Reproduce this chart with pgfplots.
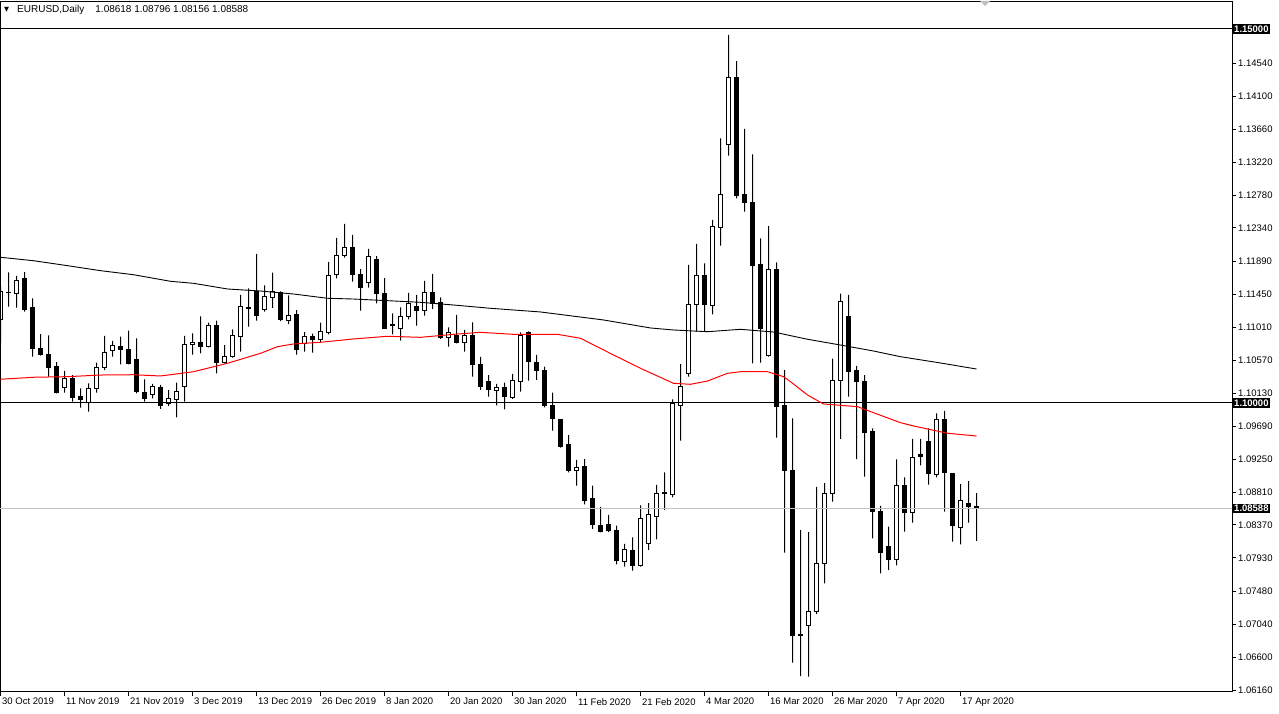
\documentclass[border=0pt]{standalone}
\usepackage{fontspec}
\setmainfont{Liberation Sans}
\newfontfamily\dejavu{DejaVu Sans}
\usepackage{pgfplots}
\usepackage{pgfplotstable}
\pgfplotsset{compat=1.18}
\definecolor{bidgrey}{RGB}{192,192,192}
\definecolor{mtred}{RGB}{255,0,0}

\pgfplotstableread{
i o h l c
0 1.11110 1.11564 1.10802 1.11497
1 1.11471 1.11747 1.11287 1.11477
2 1.11467 1.11698 1.11274 1.11644
3 1.11671 1.11751 1.11221 1.11253
4 1.11270 1.11400 1.10619 1.10726
5 1.10735 1.10922 1.10632 1.10646
6 1.10655 1.10905 1.10352 1.10477
7 1.10485 1.10548 1.10130 1.10138
8 1.10205 1.10428 1.10138 1.10321
9 1.10321 1.10374 1.10017 1.10076
10 1.10084 1.10197 1.09937 1.10050
11 1.10004 1.10263 1.09884 1.10197
12 1.10197 1.10539 1.10138 1.10477
13 1.10472 1.10896 1.10441 1.10678
14 1.10705 1.10829 1.10619 1.10771
15 1.10758 1.10886 1.10517 1.10713
16 1.10709 1.10967 1.10517 1.10525
17 1.10575 1.10865 1.10130 1.10151
18 1.10147 1.10317 1.10017 1.10058
19 1.10116 1.10254 1.10063 1.10214
20 1.10201 1.10241 1.09920 1.09969
21 1.09996 1.10174 1.09960 1.10063
22 1.10050 1.10271 1.09809 1.10151
23 1.10218 1.10896 1.10017 1.10785
24 1.10785 1.10932 1.10646 1.10812
25 1.10812 1.11159 1.10664 1.10753
26 1.10753 1.11074 1.10742 1.11039
27 1.11039 1.11100 1.10397 1.10539
28 1.10539 1.10775 1.10531 1.10628
29 1.10619 1.10985 1.10608 1.10905
30 1.10886 1.11444 1.10686 1.11293
31 1.11279 1.11534 1.11020 1.11261
32 1.11493 1.11992 1.11100 1.11167
33 1.11253 1.11574 1.11221 1.11427
34 1.11413 1.11742 1.11270 1.11488
35 1.11471 1.11493 1.11096 1.11110
36 1.11106 1.11440 1.11056 1.11172
37 1.11186 1.11243 1.10646 1.10713
38 1.10798 1.10949 1.10686 1.10892
39 1.10892 1.10926 1.10672 1.10852
40 1.10852 1.11074 1.10806 1.10959
41 1.10940 1.11885 1.10918 1.11707
42 1.11721 1.12206 1.11667 1.11975
43 1.11975 1.12393 1.11943 1.12082
44 1.12082 1.12246 1.11622 1.11715
45 1.11721 1.11791 1.11234 1.11547
46 1.11614 1.12059 1.11542 1.11961
47 1.11925 1.11965 1.11333 1.11461
48 1.11467 1.11671 1.10990 1.11000
49 1.11043 1.11199 1.10918 1.11036
50 1.10999 1.11279 1.10833 1.11159
51 1.11159 1.11471 1.11119 1.11333
52 1.11293 1.11444 1.11033 1.11234
53 1.11239 1.11631 1.11167 1.11480
54 1.11480 1.11725 1.11257 1.11333
55 1.11346 1.11413 1.10856 1.10878
56 1.10882 1.11012 1.10753 1.10936
57 1.10909 1.11177 1.10798 1.10812
58 1.10812 1.10976 1.10686 1.10909
59 1.10909 1.11079 1.10352 1.10517
60 1.10508 1.10615 1.10174 1.10218
61 1.10294 1.10374 1.10084 1.10174
62 1.10170 1.10254 1.09969 1.10210
63 1.10210 1.10271 1.09916 1.10084
64 1.10071 1.10388 1.10054 1.10304
65 1.10285 1.10945 1.10151 1.10909
66 1.10945 1.10956 1.10298 1.10552
67 1.10548 1.10642 1.10308 1.10432
68 1.10441 1.10485 1.09943 1.09964
69 1.09973 1.10138 1.09630 1.09796
70 1.09773 1.09786 1.09402 1.09425
71 1.09439 1.09572 1.09074 1.09095
72 1.09100 1.09238 1.08894 1.09144
73 1.09148 1.09251 1.08646 1.08703
74 1.08717 1.08894 1.08316 1.08373
75 1.08356 1.08610 1.08271 1.08279
76 1.08382 1.08503 1.08275 1.08302
77 1.08302 1.08360 1.07844 1.07892
78 1.07884 1.08115 1.07811 1.08048
79 1.08025 1.08205 1.07758 1.07825
80 1.07825 1.08632 1.07811 1.08459
81 1.08124 1.08663 1.08035 1.08512
82 1.08489 1.08904 1.08178 1.08793
83 1.08790 1.09074 1.08570 1.08797
84 1.08779 1.10050 1.08739 1.09996
85 1.09973 1.10521 1.09496 1.10227
86 1.10397 1.11845 1.10352 1.11320
87 1.11320 1.12126 1.10953 1.11698
88 1.11698 1.11868 1.10953 1.11320
89 1.11301 1.12447 1.11186 1.12353
90 1.12349 1.13539 1.12103 1.12790
91 1.13459 1.14920 1.13306 1.14354
92 1.14354 1.14572 1.12737 1.12771
93 1.12781 1.13663 1.12558 1.12683
94 1.12687 1.13325 1.10531 1.11841
95 1.11845 1.12202 1.10541 1.10993
96 1.10635 1.12366 1.10619 1.11787
97 1.11789 1.11881 1.09536 1.09953
98 1.09960 1.10441 1.07999 1.09095
99 1.09104 1.09796 1.06528 1.06889
100 1.06902 1.08302 1.06350 1.06894
101 1.07028 1.08275 1.06341 1.07219
102 1.07210 1.08877 1.07179 1.07857
103 1.07857 1.08930 1.07590 1.08793
104 1.08793 1.10592 1.08681 1.10304
105 1.10298 1.11461 1.09519 1.11360
106 1.11150 1.11444 1.10084 1.10418
107 1.10428 1.10495 1.09251 1.10285
108 1.10294 1.10374 1.09015 1.09603
109 1.09616 1.09662 1.08191 1.08547
110 1.08547 1.08623 1.07723 1.07999
111 1.08079 1.08346 1.07767 1.07910
112 1.07910 1.09247 1.07828 1.08901
113 1.08900 1.09007 1.08279 1.08533
114 1.08533 1.09519 1.08400 1.09274
115 1.09305 1.09519 1.09167 1.09285
116 1.09479 1.09662 1.08908 1.09055
117 1.09041 1.09862 1.09007 1.09782
118 1.09773 1.09893 1.08547 1.09068
119 1.09051 1.09057 1.08146 1.08360
120 1.08333 1.08917 1.08111 1.08690
121 1.08659 1.08957 1.08400 1.08614
122 1.08618 1.08796 1.08156 1.08588
}\candles

\pgfplotsset{mtaxis/.style={
  scale only axis, width=1232pt, height=690pt,
  xmin=-0.0625, xmax=153.9375, ymin=1.061364, ymax=1.153610,
  enlargelimits=false, clip=true,
  at={(0pt,22pt)}, anchor=south west}}

\begin{document}
\begin{tikzpicture}
\useasboundingbox (0,0) rectangle (1279pt,714pt);
% wicks
\begin{axis}[mtaxis, hide axis, ybar stacked]
\addplot[draw=none, fill=none, bar width=1pt] table[x=i, y=l]{\candles};
\addplot[draw=none, fill=black, bar width=1pt] table[x=i, y expr={\thisrow{h}-\thisrow{l}}]{\candles};
\end{axis}
% bodies
\begin{axis}[mtaxis, hide axis, ybar stacked]
\addplot[draw=none, fill=none, bar width=4.5pt] table[x=i, y expr={min(\thisrow{o},\thisrow{c})}]{\candles};
\addplot[draw=black, fill=white, line width=1pt, bar width=4.5pt] table[x=i, y expr={max(\thisrow{c}-\thisrow{o},0)}]{\candles};
\addplot[draw=black, fill=black, line width=1pt, bar width=4.5pt] table[x=i, y expr={max(\thisrow{o}-\thisrow{c},0)}]{\candles};
\end{axis}
% frame, ticks, lines
\begin{axis}[mtaxis,
  axis line style={black, line width=1pt},
  xtick={0,8,...,120},
  xticklabels={30 Oct 2019,11 Nov 2019,21 Nov 2019,3 Dec 2019,13 Dec 2019,26 Dec 2019,8 Jan 2020,20 Jan 2020,30 Jan 2020,11 Feb 2020,21 Feb 2020,4 Mar 2020,16 Mar 2020,26 Mar 2020,7 Apr 2020,17 Apr 2020},
  xtick pos=bottom,
  ytick={1.0616,1.066,1.0704,1.0748,1.0793,1.0837,1.0881,1.0925,1.0969,1.1013,1.1057,1.1101,1.1145,1.1189,1.1234,1.1278,1.1322,1.1366,1.141,1.1454},
  yticklabels={1.06160,1.06600,1.07040,1.07480,1.07930,1.08370,1.08810,1.09250,1.09690,1.10130,1.10570,1.11010,1.11450,1.11890,1.12340,1.12780,1.13220,1.13660,1.14100,1.14540},
  ytick pos=right, yticklabel pos=right,
  tick align=outside, major tick length=4pt,
  tick style={black, line width=1pt},
  tick label style={font=\fontsize{9.5}{11}\selectfont},
  xticklabel style={anchor=north west, inner sep=0pt, xshift=1.5pt, yshift=-2pt},
  yticklabel style={anchor=west, inner sep=0pt, xshift=2pt},
  extra y ticks={1.15,1.1,1.08588},
  extra y tick labels={1.15000,1.10000,1.08588},
  extra y tick style={major tick length=0pt,
    yticklabel style={fill=black, text=white, inner sep=1.5pt, xshift=-1.5pt,
      font=\bfseries\fontsize{9.5}{11}\selectfont}},
]
\addplot[bidgrey, line width=1pt] coordinates {(-1,1.08588) (155,1.08588)};
\addplot[black, line width=1pt] coordinates {(-1,1.15) (155,1.15)};
\addplot[black, line width=1pt] coordinates {(-1,1.1) (155,1.1)};
\addplot[black, line width=0.9pt] coordinates {
(0,1.11948) (4.125,1.11902) (8.375,1.11836) (12.5,1.11769) (16.625,1.11715)
(21.25,1.11627) (24.125,1.11600) (28.375,1.11524) (32.5,1.11497) (36.625,1.11457)
(40.875,1.11400) (44.125,1.11390) (48.375,1.11368) (52.5,1.11346) (56.625,1.11310)
(61.25,1.11266) (67.5,1.11217) (75.375,1.11110) (81.25,1.11003) (84.125,1.10976)
(88.375,1.10953) (92.5,1.10985) (96.625,1.10949) (100.875,1.10852) (105,1.10775)
(109.125,1.10695) (112.5,1.10619) (117.5,1.10535) (122,1.10454)};
\addplot[mtred, line width=1pt] coordinates {
(0,1.10317) (4.125,1.10344) (8.375,1.10352) (12.5,1.10374) (16.625,1.10378)
(20,1.10361) (24.125,1.10418) (28.375,1.10531) (32.5,1.10664) (34.625,1.10753)
(36.625,1.10789) (40,1.10812) (44.125,1.10856) (48.375,1.10892) (52.5,1.10878)
(56.625,1.10918) (60,1.10945) (64.125,1.10918) (69.625,1.10918) (72.5,1.10865)
(76.625,1.10642) (80,1.10464) (84.125,1.10263) (86.25,1.10250) (88.375,1.10294)
(90.875,1.10397) (92.5,1.10418) (95.875,1.10418) (97.875,1.10352) (98.75,1.10285)
(100.875,1.10107) (102.875,1.09987) (107.125,1.09951) (109.125,1.09870)
(112.5,1.09737) (114.125,1.09693) (118.375,1.09595) (122,1.09559)};
\end{axis}
\node[anchor=west, inner sep=0pt] at (4pt,704pt) {{\dejavu\fontsize{6.5}{8}\selectfont ▼}};
\node[anchor=west, inner sep=0pt] at (17pt,704pt) {\fontsize{10}{12}\selectfont EURUSD,Daily\hspace{11pt}1.08618 1.08796 1.08156 1.08588};
\fill[black!25] (980pt,713pt) -- (990pt,713pt) -- (985pt,708pt) -- cycle;
\end{tikzpicture}
\end{document}
